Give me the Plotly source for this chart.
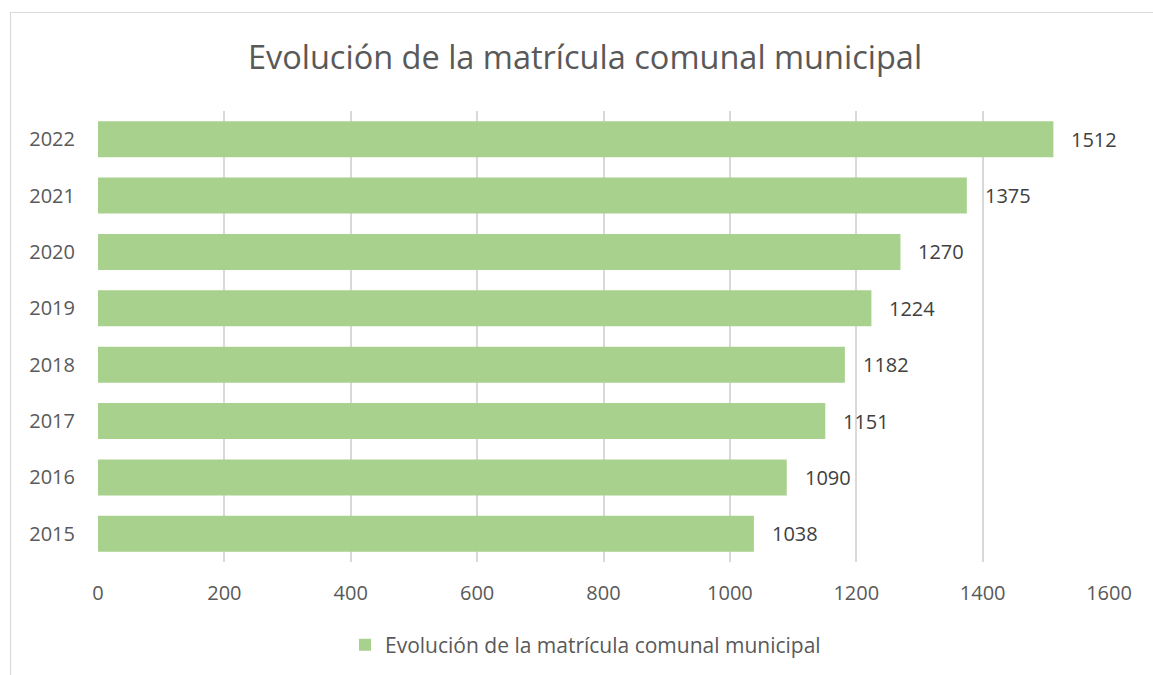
import plotly.graph_objects as go

years = ["2015", "2016", "2017", "2018", "2019", "2020", "2021", "2022"]
enrolment = [1038, 1090, 1151, 1182, 1224, 1270, 1375, 1512]
x_ticks = [0, 200, 400, 600, 800, 1000, 1200, 1400, 1600]
series_name = "Evolución de la matrícula comunal municipal"
chart_title = "Evolución de la matrícula comunal municipal"

FONT = "Open Sans"
W, H = 1153, 675
L, R, T, B = 98, 44, 111, 113
pw, ph = W - L - R, H - T - B

def px_x(p):
    return (p - L) / pw

def px_y(p):
    return (H - B - p) / ph

fig = go.Figure()
fig.add_trace(go.Bar(
    x=enrolment, y=years, orientation="h",
    marker=dict(color="#a9d18e", line=dict(width=0)),
    name=series_name, showlegend=True, hoverinfo="skip",
))

for i, v in enumerate(enrolment):
    fig.add_annotation(x=v, y=i, xref="x", yref="y", text=str(v),
                       showarrow=False, xanchor="left", yanchor="middle",
                       xshift=16, font=dict(family=FONT, size=20, color="#404040"))

fig.add_shape(type="rect", xref="paper", yref="paper",
              x0=px_x(10.5), x1=px_x(1170), y0=px_y(690), y1=px_y(12.5),
              line=dict(color="#d9d9d9", width=1.2), fillcolor="rgba(0,0,0,0)", layer="below")

fig.update_layout(
    width=W, height=H,
    margin=dict(l=L, r=R, t=T, b=B, autoexpand=False),
    paper_bgcolor="white", plot_bgcolor="white",
    bargap=0.36,
    title=dict(text=chart_title, x=585 / W, xref="container", xanchor="center",
               y=1 - 58 / H, yref="container", yanchor="middle",
               font=dict(family=FONT, size=32.5, color="#595959")),
    xaxis=dict(range=[0, 1600], tickvals=x_ticks, showgrid=True,
               gridcolor="#d9d9d9", gridwidth=1.5, zeroline=False, showline=False,
               tickfont=dict(family=FONT, size=20, color="#595959"),
               ticks="", ticklabelstandoff=17),
    yaxis=dict(type="category", range=[-0.5, len(years) - 0.5], showgrid=False,
               zeroline=False, showline=False,
               tickfont=dict(family=FONT, size=20, color="#595959"),
               ticks="", ticklabelstandoff=22),
    legend=dict(orientation="h", x=px_x(345), xanchor="left",
                y=px_y(645), yanchor="middle", itemwidth=30,
                font=dict(family=FONT, size=21, color="#595959")),
)

fig.write_html("out.html", config={"displayModeBar": False},
               post_script="document.body.style.margin='0';")
